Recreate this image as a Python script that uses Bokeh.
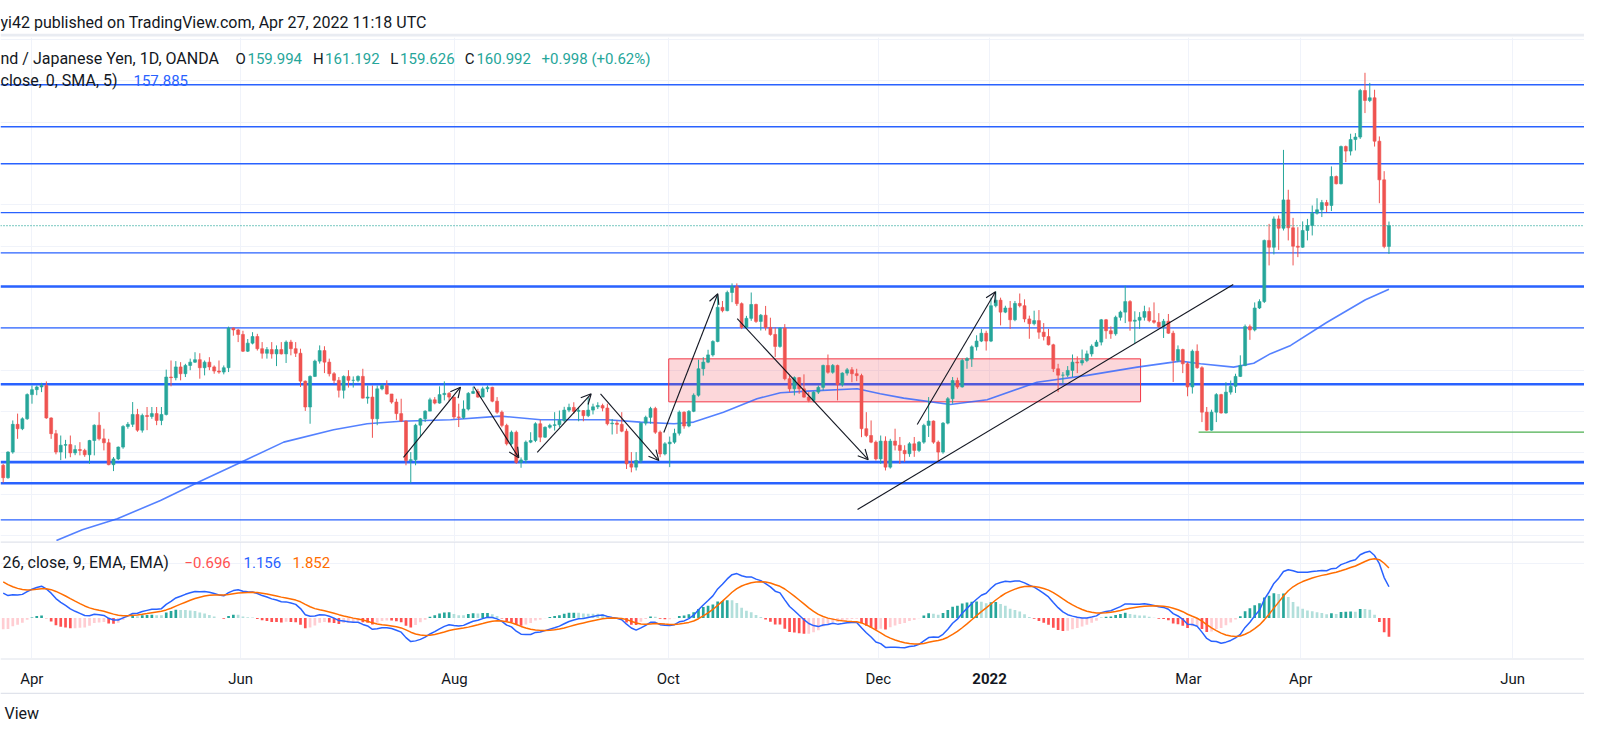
from bokeh.plotting import figure
from bokeh.layouts import column
from bokeh.models import (Range1d, Label, Span, Arrow, OpenHead, Grid, FixedTicker,
                          ColumnDataSource)
from bokeh.embed import file_html
from bokeh.resources import INLINE
from bokeh.core.properties import value, field

# ---------------- data (GBP/JPY, 1D, OANDA) ----------------
first_open = 149.40

close = [
    148.80, 150.04, 151.38, 151.17, 151.65, 152.82, 153.06, 153.19, 153.26, 151.69,
    150.93, 150.04, 150.37, 150.40, 150.00, 150.16, 150.12, 149.91, 150.60, 151.34,
    150.68, 150.49, 149.43, 149.71, 150.28, 151.28, 151.38, 151.86, 151.10, 151.81,
    151.76, 151.90, 151.57, 151.86, 153.67, 153.64, 154.16, 153.83, 154.23, 154.39,
    154.51, 154.12, 154.39, 154.16, 153.96, 153.91, 154.12, 156.04, 155.95, 155.73,
    154.92, 155.31, 155.63, 155.04, 154.82, 155.00, 154.79, 155.00, 154.79, 155.36,
    155.04, 154.82, 153.47, 152.22, 153.70, 154.44, 154.95, 154.39, 153.83, 153.51,
    153.03, 153.70, 153.51, 153.51, 153.70, 152.65, 152.70, 151.65, 153.10, 153.26,
    152.85, 152.46, 151.90, 151.54, 149.63, 149.67, 151.34, 151.65, 152.02, 152.57,
    152.41, 152.82, 152.88, 152.70,
    151.74, 151.71, 152.12, 152.88, 152.97, 152.70, 153.10, 153.17, 152.50, 151.97,
    151.33, 150.44, 151.00, 149.54, 149.66, 150.52, 150.60, 151.41, 150.76, 151.24,
    151.33, 151.36, 151.57, 152.07, 152.20, 152.01, 152.05, 151.80, 152.07, 152.23,
    152.29, 152.17, 151.41, 151.44, 151.38, 151.05, 149.47, 149.31, 149.63, 151.44,
    151.72, 152.15, 151.00, 149.95, 150.44, 150.52, 150.95, 151.97, 151.30, 152.01,
    152.79, 154.07, 154.39, 154.74, 155.39, 157.04, 156.88, 157.76, 158.04, 157.22,
    156.07, 156.51, 157.18, 156.36, 156.66, 156.07, 155.73, 155.15, 156.04, 153.59,
    153.10, 153.64, 153.10, 152.70, 152.54, 152.94, 153.17, 154.23, 153.90, 154.23,
    153.30, 153.86, 154.02, 153.83, 153.74, 151.17, 150.84, 150.52, 149.71,
    150.57, 149.31, 150.57, 150.37, 150.12, 149.96, 150.44, 150.12, 150.52, 151.33,
    151.54, 150.52, 150.04, 151.44, 152.62, 153.50, 153.19, 154.47, 154.56, 155.13,
    155.41, 155.79, 155.41, 157.12, 157.39, 156.81, 157.01, 156.44, 157.23, 157.12,
    156.48, 156.25, 156.40, 155.84, 155.63, 155.23, 154.07, 153.76, 153.76, 153.99,
    154.39, 154.35, 154.47, 154.79, 155.16, 155.36, 156.44, 155.91, 155.76, 156.56,
    156.81, 157.32, 156.37, 156.42, 156.56, 156.84, 156.40, 156.32, 156.11, 156.37,
    155.79, 154.47, 155.00, 154.31, 153.19, 154.92, 154.12, 151.97, 151.10, 151.97,
    152.82, 151.93, 152.94, 153.22, 153.70, 154.23, 156.11, 155.95, 157.01, 157.32,
    160.28, 159.95, 161.32, 160.87, 162.24, 160.89, 160.00, 159.95, 160.76, 161.00,
    161.60, 161.76, 162.11, 161.97, 163.37, 163.02, 164.82, 164.60, 165.16, 165.28,
    167.53, 167.05, 167.18, 165.08, 163.21, 159.99, 160.992,
]

high = [
    149.47, 150.08, 151.57, 151.90, 151.72, 152.88, 153.26, 153.26, 153.39, 153.46,
    151.72, 151.11, 150.84, 150.63, 150.84, 150.37, 150.52, 150.20, 150.63, 151.38,
    151.97, 151.17, 150.68, 149.80, 150.31, 151.34, 151.49, 152.46, 152.13, 151.90,
    152.22, 152.22, 152.22, 152.22, 154.03, 154.47, 154.44, 154.39, 154.31, 154.56,
    154.87, 154.82, 154.47, 154.63, 154.23, 154.47, 154.23, 156.11, 156.07, 156.00,
    155.91, 155.51, 155.84, 155.76, 155.36, 155.12, 155.36, 155.20, 155.36, 155.44,
    155.47, 155.36, 155.04, 153.50, 153.75, 154.51, 155.20, 155.16, 154.56, 153.91,
    153.67, 153.75, 154.00, 153.70, 153.75, 154.07, 153.26, 153.26, 153.26, 153.35,
    153.51, 152.85, 152.62, 152.62, 151.57, 150.04, 151.41, 151.69, 152.06, 152.67,
    152.70, 153.22, 153.46, 152.94,
    152.70, 152.38, 152.54, 152.94, 153.20, 153.10, 153.20, 153.26, 153.20, 152.70,
    152.05, 151.41, 151.08, 151.08, 149.78, 150.60, 151.00, 151.48, 151.60, 151.28,
    151.41, 151.97, 152.05, 152.23, 152.38, 152.45, 152.20, 152.07, 152.70, 152.38,
    152.45, 152.38, 152.38, 151.64, 151.57, 151.97, 151.17, 150.04, 150.04, 151.47,
    151.80, 152.23, 152.23, 151.08, 150.52, 150.79, 151.17, 152.05, 152.01, 152.07,
    152.88, 154.51, 154.63, 154.99, 155.45, 157.67, 157.35, 157.85, 158.20, 158.20,
    157.28, 156.63, 157.76, 157.22, 156.72, 157.11, 156.54, 156.07, 156.07, 156.23,
    153.74, 153.70, 153.67, 153.80, 152.94, 152.98, 153.26, 154.27, 154.76, 154.30,
    154.27, 153.90, 154.11, 154.15, 154.07, 153.83, 151.97, 151.57, 150.60,
    150.84, 150.80, 150.68, 151.17, 150.77, 150.37, 150.52, 150.77, 150.57, 151.41,
    152.70, 151.57, 150.60, 151.49, 152.70, 153.67, 153.64, 154.56, 154.63, 155.20,
    155.69, 156.00, 155.91, 157.51, 157.81, 157.51, 157.12, 157.35, 157.35, 157.71,
    157.43, 156.64, 156.88, 156.91, 156.28, 156.00, 155.28, 154.31, 153.91, 154.20,
    154.76, 154.67, 155.00, 154.95, 155.25, 155.47, 156.48, 156.48, 156.12, 156.64,
    156.88, 158.09, 157.39, 156.85, 156.81, 157.12, 157.04, 157.28, 156.76, 156.48,
    156.72, 155.91, 155.20, 155.04, 154.39, 155.00, 155.25, 154.19, 152.22, 152.09,
    152.89, 152.86, 153.42, 153.50, 153.83, 154.72, 156.21, 156.21, 157.28, 157.43,
    160.32, 161.08, 161.44, 161.49, 164.66, 162.73, 161.37, 160.92, 161.20, 161.32,
    161.97, 162.32, 162.24, 162.24, 163.86, 163.42, 164.87, 164.87, 165.44, 165.47,
    167.61, 168.39, 167.90, 167.57, 165.31, 163.63, 161.192,
]

low = [
    148.56, 148.75, 149.96, 150.68, 151.10, 151.60, 152.38, 152.79, 152.94, 151.65,
    150.68, 149.93, 149.65, 149.73, 149.79, 149.89, 149.88, 149.81, 149.47, 149.88,
    150.60, 150.12, 149.40, 149.12, 149.65, 150.20, 151.17, 151.25, 151.02, 150.98,
    151.10, 151.65, 151.34, 151.34, 151.81, 153.22, 153.51, 153.51, 153.67, 154.00,
    154.35, 153.59, 153.75, 154.00, 153.83, 153.83, 153.80, 153.91, 155.67, 155.36,
    154.88, 154.88, 155.25, 154.95, 154.56, 154.56, 154.56, 154.20, 154.76, 154.35,
    154.72, 154.64, 153.19, 152.03, 151.41, 153.67, 154.32, 153.86, 153.70, 153.35,
    152.68, 152.63, 153.16, 153.16, 153.42, 152.63, 152.38, 150.73, 151.34, 153.03,
    152.82, 152.38, 151.60, 151.49, 149.40, 148.54, 149.40, 150.76, 151.49, 152.02,
    152.35, 152.38, 152.54, 152.51,
    151.64, 151.25, 151.64, 152.05, 152.85, 152.67, 152.70, 152.94, 152.45, 151.89,
    151.24, 150.36, 150.36, 149.47, 149.28, 149.50, 150.47, 150.52, 150.52, 150.72,
    151.17, 151.08, 151.24, 151.48, 151.97, 151.89, 151.53, 151.53, 151.73, 151.86,
    152.12, 152.01, 151.33, 150.89, 150.92, 151.00, 149.22, 149.06, 149.15, 149.50,
    151.33, 151.41, 150.92, 149.79, 149.88, 149.31, 150.44, 150.84, 151.17, 151.24,
    151.97, 152.72, 153.74, 154.34, 154.66, 155.35, 156.80, 156.85, 157.29, 157.11,
    155.99, 156.07, 156.39, 156.29, 155.92, 155.92, 155.67, 154.64, 155.09, 153.51,
    152.94, 152.78, 152.86, 152.67, 152.45, 152.45, 152.85, 153.02, 153.83, 153.83,
    152.54, 153.20, 153.74, 153.42, 153.47, 150.76, 150.76, 150.47, 149.63,
    149.47, 149.15, 149.24, 150.12, 149.47, 149.56, 149.81, 149.81, 150.04, 150.44,
    150.77, 150.44, 149.56, 149.96, 151.38, 152.38, 153.10, 153.16, 154.07, 154.16,
    154.95, 155.36, 154.95, 155.36, 157.04, 156.17, 156.76, 156.00, 156.37, 157.04,
    156.32, 155.52, 156.17, 155.52, 155.44, 155.20, 153.91, 152.94, 153.35, 153.67,
    153.67, 153.86, 154.23, 154.39, 154.66, 155.13, 155.20, 155.52, 155.52, 155.67,
    156.40, 156.28, 155.91, 155.31, 156.00, 156.40, 156.32, 156.25, 156.05, 155.56,
    155.76, 153.43, 154.39, 153.86, 152.74, 152.87, 154.07, 151.49, 151.07, 151.07,
    151.49, 151.90, 151.90, 152.82, 152.90, 153.67, 154.19, 155.47, 155.88, 156.96,
    157.25, 159.07, 159.60, 159.82, 160.76, 160.28, 159.07, 159.47, 159.92, 160.28,
    160.52, 161.53, 161.41, 161.65, 161.70, 162.99, 162.99, 164.07, 164.39, 164.63,
    165.19, 166.44, 166.97, 164.82, 162.08, 159.90, 159.626,
]

# long moving average (sampled along its curve: bar position, price)
ma_idx = [11.1, 16.5, 23.8, 32.8, 41.1, 49.6, 58.5, 68.9, 75.9, 82.9, 93.3, 103.7, 112.1,
          126.0, 132.9, 139.9, 144.0, 150.2, 157.2, 162.1, 167.7, 178.1, 182.9, 187.8,
          197.5, 205.2, 215.6, 226.1, 236.5, 245.5, 249.7, 256.6, 260.8, 264.3, 268.5,
          276.0, 284.1, 289.0]
ma_val = [145.76, 146.28, 146.81, 147.70, 148.63, 149.55, 150.52, 151.12, 151.41, 151.53,
          151.60, 151.78, 151.60, 151.60, 151.49, 151.41, 151.49, 151.97, 152.62, 152.91,
          152.99, 153.10, 152.86, 152.65, 152.34, 152.57, 153.42, 153.75, 154.15, 154.44,
          154.31, 154.15, 154.34, 154.80, 155.20, 156.31, 157.41, 157.92]

# horizontal levels drawn on the chart
levels_thick = [158.05, 153.32, 149.55, 148.53]
levels_thin = [167.81, 165.78, 163.99, 161.62, 159.68, 156.05, 146.76]
last_price = 160.992
green_level = 151.00
green_level_start = 249.3

# pink range box
box_left, box_right, box_top, box_bottom = 138.8, 237.2, 154.55, 152.47

# arrows (start -> end, bar position / price)
arrow_x0 = [83.48, 98.14, 111.37, 124.57, 137.77, 153.08, 190.62]
arrow_y0 = [149.78, 153.21, 150.03, 152.86, 150.99, 156.49, 151.37]
arrow_x1 = [95.37, 107.53, 122.63, 136.73, 149.03, 180.40, 206.94]
arrow_y1 = [153.18, 149.76, 152.86, 149.63, 157.70, 149.67, 157.80]
trend_x = [178.17, 256.52]
trend_y = [147.26, 158.15]

# time axis
tick_idx = [5.96, 49.5, 94.1, 138.7, 182.5, 205.7, 247.2, 270.6, 314.8]
tick_text = ["Apr", "Jun", "Aug", "Oct", "Dec", "2022", "Mar", "Apr", "Jun"]
tick_style = ["normal", "normal", "normal", "normal", "normal", "bold", "normal", "normal", "normal"]
price_grid = [146, 148, 150, 152, 154, 156, 158, 160, 162, 164, 166, 168, 170]
macd_grid = [2.0]

# MACD(12, 26, 9) state just before the first visible bar
ema_fast_seed, ema_slow_seed, signal_seed = 150.6, 149.45, 1.44

# ---------------- derived series ----------------
n = len(close)
idx = list(range(n))
opens = [first_open] + close[:-1]
hi = [max(h, o, c) for h, o, c in zip(high, opens, close)]
lo = [min(l, o, c) for l, o, c in zip(low, opens, close)]

UP, DN = "#26A69A", "#EF5350"
BLUE = "#2962FF"
GRID = "#F0F3FA"
SEP = "#E0E3EB"
TXT = "#131722"
FONT = "Roboto"

ef, es, sg = ema_fast_seed, ema_slow_seed, signal_seed
macd, signal, hist = [], [], []
for c in close:
    ef += 2.0 / 13 * (c - ef)
    es += 2.0 / 27 * (c - es)
    m = ef - es
    sg += 2.0 / 10 * (m - sg)
    macd.append(m)
    signal.append(sg)
    hist.append(m - sg)
hcol = []
for i, h in enumerate(hist):
    prev = hist[i - 1] if i > 0 else h
    if h >= 0:
        hcol.append("#26A69A" if h >= prev else "#B2DFDB")
    else:
        hcol.append("#FF5252" if h < prev else "#FFCDD2")

W = 1584
xr = Range1d(-0.563, 329.78)


def make_fig(height, x_range, y_range):
    p = figure(width=W, height=height, x_range=x_range, y_range=y_range,
               output_backend="svg", toolbar_location=None, tools="",
               x_axis_location=None, y_axis_location=None,
               min_border=0, min_border_left=0, min_border_right=0,
               min_border_top=0, min_border_bottom=0,
               outline_line_color=None, background_fill_color="#FFFFFF",
               border_fill_color="#FFFFFF")
    p.grid.visible = False
    return p


def label(p, x, y, text, color=TXT, size="15px", style="normal", baseline="middle"):
    p.add_layout(Label(x=x, y=y, x_units="screen", y_units="screen", text=text,
                       text_color=color, text_font=FONT, text_font_size=size,
                       text_font_style=style, text_baseline=baseline, text_align="left"))


# ---------------- header (y 0-37) ----------------
pA = make_fig(37, Range1d(0, W), Range1d(0, 37))
pA.quad(left=[0], right=[W], bottom=[1.0], top=[3.7], fill_color="#E9ECF2", line_color=None)
label(pA, 0, 15.3, "yi42 published on TradingView.com, Apr 27, 2022 11:18 UTC", size="16px")

# ---------------- price pane (y 37-541) ----------------
pB = make_fig(504, xr, Range1d(145.713, 170.097))
pB.add_layout(Grid(dimension=0, ticker=FixedTicker(ticks=tick_idx), grid_line_color=GRID))
pB.add_layout(Grid(dimension=1, ticker=FixedTicker(ticks=price_grid), grid_line_color=GRID))
for v in levels_thin:
    pB.add_layout(Span(location=v, dimension="width", line_color=BLUE, line_width=1.3, level="underlay"))
for v in levels_thick:
    pB.add_layout(Span(location=v, dimension="width", line_color=BLUE, line_width=2.7, level="underlay"))

pB.quad(left=[box_left], right=[box_right], top=[box_top], bottom=[box_bottom],
        fill_color="#F23645", fill_alpha=0.2, line_color="#F23645", line_width=1)
pB.segment(x0=[green_level_start], y0=[green_level], x1=[400], y1=[green_level],
           line_color="#4CAF50", line_width=1.2)
pB.line(ma_idx, ma_val, line_color=BLUE, line_width=1.6, line_alpha=0.8)

csrc = ColumnDataSource(dict(
    x=idx, hi=hi, lo=lo,
    top=[max(o, c) for o, c in zip(opens, close)],
    bot=[min(o, c) for o, c in zip(opens, close)],
    col=[UP if c >= o else DN for o, c in zip(opens, close)],
))
pB.segment(x0="x", y0="lo", x1="x", y1="hi", source=csrc, line_color=field("col"), line_width=1)
pB.vbar(x="x", width=0.62, top="top", bottom="bot", source=csrc,
        fill_color=field("col"), line_color=field("col"), line_width=0.6)

pB.line(trend_x, trend_y, line_color=TXT, line_width=1.1)
asrc = ColumnDataSource(dict(x0=arrow_x0, y0=arrow_y0, x1=arrow_x1, y1=arrow_y1))
pB.add_layout(Arrow(end=OpenHead(size=10, line_color=TXT, line_width=1.1),
                    x_start="x0", y_start="y0", x_end="x1", y_end="y1", source=asrc,
                    line_color=TXT, line_width=1.1))
pB.add_layout(Span(location=last_price, dimension="width", line_color=UP, line_width=1.2,
                   line_dash="1 2"))

# legend rows (screen positions inside the pane)
yl1, yl2 = 541 - 58.3, 541 - 80
label(pB, 0, yl1, "nd / Japanese Yen, 1D, OANDA", size="16px")
label(pB, 235, yl1, "O")
label(pB, 247, yl1, "159.994", color=UP)
label(pB, 312.5, yl1, "H")
label(pB, 324.6, yl1, "161.192", color=UP)
label(pB, 389.7, yl1, "L")
label(pB, 399.6, yl1, "159.626", color=UP)
label(pB, 464.3, yl1, "C")
label(pB, 475.9, yl1, "160.992", color=UP)
label(pB, 541, yl1, "+0.998 (+0.62%)", color=UP)
label(pB, 0, yl2, "close, 0, SMA, 5)", size="16px")
label(pB, 133, yl2, "157.885", color=BLUE)

# ---------------- MACD pane (y 541-658) ----------------
pC = make_fig(117, xr, Range1d(-1.5, 2.833))
pC.add_layout(Grid(dimension=0, ticker=FixedTicker(ticks=tick_idx), grid_line_color=GRID))
pC.add_layout(Grid(dimension=1, ticker=FixedTicker(ticks=macd_grid), grid_line_color=GRID))
pC.add_layout(Span(location=2.833, dimension="width", line_color=SEP, line_width=2.5))
hsrc = ColumnDataSource(dict(x=idx, h=hist, col=hcol))
pC.vbar(x="x", width=0.56, top="h", bottom=0, source=hsrc, fill_color=field("col"),
        line_color=None)
pC.line(idx, macd, line_color=BLUE, line_width=1.5)
pC.line(idx, signal, line_color="#FF6D00", line_width=1.5)
ym = 658 - 562
label(pC, 2, ym, "26, close, 9, EMA, EMA)", size="16px")
label(pC, 184, ym, "\u22120.696", color="#FF5252")
label(pC, 243, ym, "1.156", color=BLUE)
label(pC, 292, ym, "1.852", color="#FF6D00")

# ---------------- time axis (y 658-694) ----------------
pD = make_fig(36, xr, Range1d(0, 36))
pD.add_layout(Span(location=36, dimension="width", line_color=SEP, line_width=2))
pD.add_layout(Span(location=0.5, dimension="width", line_color=SEP, line_width=2.5))
tsrc = ColumnDataSource(dict(x=tick_idx, y=[16] * len(tick_idx), t=tick_text, s=tick_style))
pD.text(x="x", y="y", text="t", source=tsrc, text_font=value(FONT), text_font_size="15px",
        text_font_style=field("s"), text_color=TXT, text_align="center",
        text_baseline="middle")

# ---------------- footer (y 694-726) ----------------
pE = make_fig(32, Range1d(0, W), Range1d(0, 32))
label(pE, 4, 13, "View", size="16px", baseline="middle")

layout = column(pA, pB, pC, pD, pE, spacing=0)
open("out.html", "w").write(file_html(layout, INLINE))
